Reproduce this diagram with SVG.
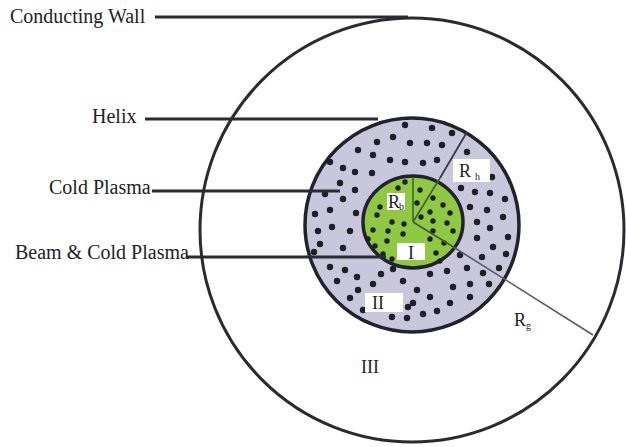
<svg xmlns="http://www.w3.org/2000/svg" width="626" height="447" viewBox="0 0 626 447">
<style>
.lbl{font-family:"Liberation Serif","Times New Roman",serif;font-size:20px;fill:#222}
.rl{font-family:"Liberation Serif","Times New Roman",serif;font-size:18px;fill:#222}
.sub{font-family:"Liberation Serif","Times New Roman",serif;font-size:10px;fill:#222}
.lead{stroke:#2a2a33;stroke-width:3;fill:none}
.box{fill:#fff}
.d circle{fill:#1e1e26}
</style>
<rect width="626" height="447" fill="#fff"/>
<g id="wall">
<circle cx="412" cy="230" r="212" fill="#fff" stroke="#2a2a35" stroke-width="3"/>
</g>
<g id="helix-region">
<circle cx="412" cy="225" r="107" fill="#c8c7dc" stroke="#22222c" stroke-width="3.5"/>
<g class="d">
<circle cx="405" cy="125" r="3.2"/><circle cx="432" cy="128" r="3.2"/><circle cx="452" cy="133" r="3.2"/>
<circle cx="377" cy="142" r="3.2"/><circle cx="393" cy="137" r="3.2"/><circle cx="410" cy="143" r="3.2"/>
<circle cx="427" cy="143" r="3.2"/><circle cx="442" cy="145" r="3.2"/><circle cx="358" cy="150" r="3.2"/>
<circle cx="373" cy="155" r="3.2"/><circle cx="390" cy="160" r="3.2"/><circle cx="405" cy="162" r="3.2"/>
<circle cx="423" cy="163" r="3.2"/><circle cx="437" cy="160" r="3.2"/><circle cx="343" cy="168" r="3.2"/>
<circle cx="330" cy="162" r="3.2"/><circle cx="355" cy="172" r="3.2"/><circle cx="372" cy="173" r="3.2"/>
<circle cx="340" cy="183" r="3.2"/><circle cx="467" cy="152" r="3.2"/><circle cx="492" cy="177" r="3.2"/>
<circle cx="475" cy="192" r="3.2"/><circle cx="490" cy="193" r="3.2"/><circle cx="505" cy="199" r="3.2"/>
<circle cx="470" cy="207" r="3.2"/><circle cx="487" cy="210" r="3.2"/><circle cx="503" cy="217" r="3.2"/>
<circle cx="477" cy="222" r="3.2"/><circle cx="490" cy="228" r="3.2"/><circle cx="508" cy="237" r="3.2"/>
<circle cx="477" cy="238" r="3.2"/><circle cx="493" cy="247" r="3.2"/><circle cx="482" cy="257" r="3.2"/>
<circle cx="506" cy="254" r="3.2"/><circle cx="467" cy="268" r="3.2"/><circle cx="483" cy="273" r="3.2"/>
<circle cx="499" cy="268" r="3.2"/><circle cx="470" cy="284" r="3.2"/><circle cx="489" cy="284" r="3.2"/>
<circle cx="453" cy="287" r="3.2"/><circle cx="470" cy="297" r="3.2"/><circle cx="450" cy="303" r="3.2"/>
<circle cx="430" cy="297" r="3.2"/><circle cx="417" cy="290" r="3.2"/><circle cx="437" cy="311" r="3.2"/>
<circle cx="423" cy="314" r="3.2"/><circle cx="413" cy="303" r="3.2"/><circle cx="407" cy="318" r="3.2"/>
<circle cx="392" cy="317" r="3.2"/><circle cx="408" cy="307" r="3.2"/>
<circle cx="330" cy="267" r="3.2"/><circle cx="345" cy="270" r="3.2"/><circle cx="357" cy="277" r="3.2"/>
<circle cx="337" cy="281" r="3.2"/><circle cx="358" cy="290" r="3.2"/><circle cx="373" cy="284" r="3.2"/>
<circle cx="381" cy="274" r="3.2"/><circle cx="350" cy="298" r="3.2"/><circle cx="363" cy="310" r="3.2"/>
<circle cx="403" cy="281" r="3.2"/><circle cx="393" cy="269" r="3.2"/><circle cx="430" cy="274" r="3.2"/>
<circle cx="447" cy="271" r="3.2"/><circle cx="315" cy="214" r="3.2"/><circle cx="330" cy="210" r="3.2"/>
<circle cx="318" cy="231" r="3.2"/><circle cx="332" cy="227" r="3.2"/><circle cx="320" cy="244" r="3.2"/>
<circle cx="343" cy="248" r="3.2"/><circle cx="350" cy="231" r="3.2"/><circle cx="356" cy="213" r="3.2"/>
<circle cx="325" cy="194" r="3.2"/><circle cx="343" cy="199" r="3.2"/><circle cx="355" cy="190" r="3.2"/>
<circle cx="314" cy="252" r="3.2"/><circle cx="461" cy="188" r="3.2"/><circle cx="460" cy="255" r="3.2"/>
</g>
</g>
<g id="beam-region">
<ellipse cx="413" cy="222" rx="50" ry="46" fill="#8fc843" stroke="#22222c" stroke-width="3.5"/>
<g class="d">
<circle cx="398" cy="188" r="2.7"/><circle cx="420" cy="190" r="2.7"/><circle cx="433" cy="198" r="2.7"/>
<circle cx="380" cy="207" r="2.7"/><circle cx="417" cy="203" r="2.7"/><circle cx="443" cy="205" r="2.7"/>
<circle cx="430" cy="212" r="2.7"/><circle cx="450" cy="213" r="2.7"/><circle cx="377" cy="215" r="2.7"/>
<circle cx="392" cy="222" r="2.7"/><circle cx="404" cy="224" r="2.7"/><circle cx="421" cy="217" r="2.7"/>
<circle cx="433" cy="221" r="2.7"/><circle cx="447" cy="223" r="2.7"/><circle cx="373" cy="230" r="2.7"/>
<circle cx="388" cy="231" r="2.7"/><circle cx="403" cy="234" r="2.7"/><circle cx="433" cy="231" r="2.7"/>
<circle cx="453" cy="231" r="2.7"/><circle cx="368" cy="239" r="2.7"/><circle cx="387" cy="241" r="2.7"/>
<circle cx="430" cy="239" r="2.7"/><circle cx="444" cy="243" r="2.7"/><circle cx="375" cy="246" r="2.7"/>
<circle cx="436" cy="253" r="2.7"/><circle cx="440" cy="261" r="2.7"/><circle cx="383" cy="254" r="2.7"/>
<circle cx="392" cy="259" r="2.7"/><circle cx="405" cy="182" r="2.7"/>
</g>
</g>
<g id="radii">
<line x1="413" y1="222" x2="413" y2="178" stroke="#3d5e2e" stroke-width="1.5"/>
<line x1="413" y1="222" x2="440" y2="178" stroke="#3d5e2e" stroke-width="1.5"/>
<line x1="440" y1="178" x2="467" y2="132" stroke="#3a3a44" stroke-width="1.8"/>
<line x1="413" y1="222" x2="455" y2="248" stroke="#3d5e2e" stroke-width="1.5"/>
<line x1="455" y1="248" x2="593" y2="335" stroke="#5a5a66" stroke-width="1.6"/>
</g>
<g id="region-labels">
<rect class="box" x="453" y="159" width="37" height="23"/>
<text class="rl" x="459" y="177">R</text><text class="sub" x="475" y="180">h</text>
<rect class="box" x="387" y="193" width="18" height="17"/>
<text class="rl" x="388" y="208" font-size="16">R</text><text class="sub" x="399" y="210">b</text>
<rect class="box" x="397" y="243" width="28" height="17"/>
<text class="rl" x="411" y="259" text-anchor="middle">I</text>
<rect class="box" x="365" y="293" width="38" height="19"/>
<text class="rl" x="372" y="309">II</text>
<text class="rl" x="514" y="326" font-size="17">R</text><text class="sub" x="526" y="329">g</text>
<text class="rl" x="361" y="373">III</text>
</g>
<g id="connectors">
<line class="lead" x1="155" y1="17" x2="408" y2="17"/>
<line class="lead" x1="145" y1="119" x2="378" y2="119"/>
<line class="lead" x1="152" y1="191" x2="340" y2="191"/>
<line class="lead" x1="187" y1="257" x2="386" y2="257"/>
</g>
<g id="labels">
<text class="lbl" x="10" y="23">Conducting Wall</text>
<text class="lbl" x="92" y="123">Helix</text>
<text class="lbl" x="49" y="194">Cold Plasma</text>
<text class="lbl" x="15" y="259">Beam &amp; Cold Plasma</text>
</g>
</svg>
